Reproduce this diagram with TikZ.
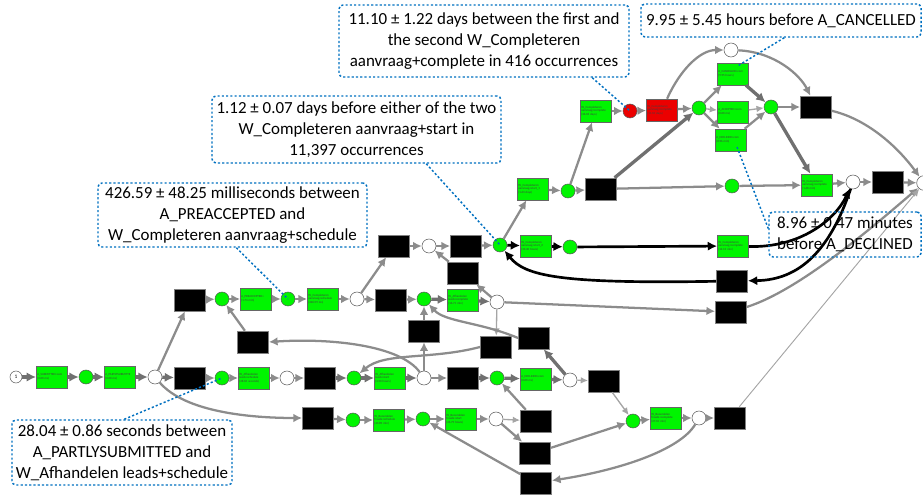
\documentclass[tikz,border=0pt]{standalone}
\usepackage{fontspec}
\setmainfont{Carlito}
\usetikzlibrary{calc}
\usetikzlibrary{arrows.meta}

\definecolor{netgreen}{RGB}{0,245,0}
\definecolor{netred}{RGB}{235,0,0}
\definecolor{arclight}{RGB}{165,165,165}
\definecolor{arcgray}{RGB}{140,140,140}
\definecolor{arcdark}{RGB}{112,112,112}
\definecolor{callblue}{RGB}{0,112,192}

\tikzset{
  trans/.style={draw=gray!80!black, fill=netgreen, minimum width=23.5pt, minimum height=16.5pt,
    inner sep=0.6pt, text width=22pt, align=left, font=\fontsize{2.3}{2.8}\selectfont, text=black!75},
  redtrans/.style={trans, fill=netred},
  silent/.style={draw=gray, fill=black, minimum width=23.5pt, minimum height=16.5pt, inner sep=0pt},
  place/.style={circle, draw=gray!70!black, fill=white, minimum size=10.5pt, inner sep=0pt},
  gplace/.style={place, fill=netgreen},
  rplace/.style={place, fill=netred},
  arcthin/.style={draw=arclight, line width=1pt, -{Latex[length=5.5pt,width=5pt]}},
  arcmid/.style={draw=arcgray, line width=1.7pt, -{Latex[length=6.5pt,width=6.5pt]}},
  arcthick/.style={draw=arcdark, line width=2.5pt, -{Latex[length=7pt,width=7pt]}},
  arcblack/.style={draw=black, line width=2pt, -{Latex[length=7pt,width=7pt]}},
  callout/.style={draw=callblue, line width=1.1pt, dash pattern=on 1.6pt off 1.6pt, rounded corners=3pt,
    inner sep=0pt, align=center, font=\fontsize{12.7}{15.75}\selectfont},
  pointer/.style={draw=callblue, line width=1.1pt, dash pattern=on 1.6pt off 1.6pt}
}

\begin{document}
\begin{tikzpicture}[x=0.75pt, y=-0.75pt]
  % Boundary
  \useasboundingbox (0,0) rectangle (923,495);
  % Bottom row
  \node[place, minimum size=9pt, font=\fontsize{4}{4}\selectfont] (p0) at (16,377) {1};
  \node[trans] (t1) at (52,377) {A\_SUBMITTED+com\\(0.00 ms)};
  \node[gplace] (p1) at (86,377) {};
  \node[trans] (t2) at (120,377) {A\_PARTLYSUBMITTE\\(0.00 ms)};
  \node[place] (p2) at (155,377) {};
  \node[silent] (s1) at (190,378) {};
  \node[gplace] (p3) at (222,378) {};
  \node[trans] (t3) at (254,378) {W\_Afhandelen\\leads+schedule\\(28.04 seconds)};
  \node[place] (p4) at (287,378) {};
  \node[silent] (s2) at (320,378) {};
  \node[gplace] (p5) at (354,378) {};
  \node[trans] (t4) at (390,378) {W\_Afhandelen\\leads+start\\(4.50 hours)};
  \node[place] (p6) at (424,378) {};
  \node[silent] (s3) at (463,378) {};
  \node[gplace] (p7) at (497,378) {};
  \node[trans] (t5) at (536,379) {A\_DECLINED+com\\(0.00 ms)};
  \node[place] (p8) at (570,380) {};
  \node[silent] (s4) at (604,381) {};
  % Second row
  \node[silent] (s5) at (190,300) {};
  \node[gplace] (p9) at (222,299) {};
  \node[trans] (t6) at (256,299) {A\_PREACCEPTED+\\(1.74 min)};
  \node[gplace] (p10) at (288,299) {};
  \node[trans] (t7) at (323,299) {W\_Completeren\\aanvraag+schedule\\(426.59 ms)};
  \node[place] (p11) at (357,299) {};
  \node[silent] (s6) at (391,300) {};
  \node[gplace] (p12) at (424,299) {};
  \node[trans] (t8) at (463,300) {W\_Afhandelen\\leads+complete\\(16.71 min)};
  \node[place] (p13) at (497,302) {};
  \node[silent] (s7) at (731,312) {};
  \node[silent] (s8) at (253,342) {};
  \node[silent] (s9) at (424,331) {};
  \node[silent] (s10) at (463,273) {};
  \node[silent] (s11) at (496,347) {};
  \node[silent] (s12) at (534,338) {};
  % Third row
  \node[silent] (s13) at (394,246) {};
  \node[place] (p14) at (429,246) {};
  \node[silent] (s14) at (466,246) {};
  \node[gplace] (p15) at (500,245) {};
  \node[trans] (t9) at (536,246) {W\_Completeren\\aanvraag+start\_2\\(33.40 hours)};
  \node[gplace] (p16) at (570,247) {};
  \node[trans] (t10) at (733,246) {W\_Completeren\\aanvraag+complete\\(14.13 min)};
  \node[silent] (s15) at (732,281) {};
  % Upper part
  \node[trans] (t11) at (533,189) {W\_Completeren\\aanvraag+start\_1\\(1.63 days)};
  \node[gplace] (p17) at (568,191) {};
  \node[silent] (s16) at (601,189) {};
  \node[gplace] (p18) at (732,186) {};
  \node[trans] (t12) at (817,185) {W\_Completeren\\aanvraag+complete\\(1.68 min)};
  \node[place] (p19) at (853,182) {};
  \node[silent] (s17) at (888,182) {};
  \node[place, minimum size=11pt] (pend) at (924,183) {};
  \node[trans] (t13) at (596,111) {W\_Completeren\\aanvraag+complete\\(36.18 days)};
  \node[rplace] (p20) at (630,111) {};
  \node[redtrans] (t14) at (662,110) {W\_Completeren\\aanvraag+complete\\(11.10 days)};
  \node[gplace] (p21) at (699,108) {};
  \node[place] (p22) at (731,50) {};
  \node[trans] (t15) at (733,74) {A\_CANCELLED+com\\(9.95 hours)};
  \node[trans] (t16) at (733,112) {A\_ACCEPTED+com\\(0.00 ms)};
  \node[trans] (t17) at (731,140) {A\_DECLINED+com\\(8.96 min)};
  \node[gplace] (p23) at (771,107) {};
  \node[silent] (s18) at (816,107) {};
  % Fourth row
  \node[silent] (s19) at (318,418) {};
  \node[gplace] (p24) at (353,420) {};
  \node[trans] (t18) at (389,420) {W\_Beoordelen\\fraude+schedule\\(40.89 min)};
  \node[gplace] (p25) at (423,419) {};
  \node[trans] (t19) at (461,419) {W\_Beoordelen\\fraude+start\\(26.79 hours)};
  \node[place] (p26) at (496,419) {};
  \node[silent] (s20) at (536,421) {};
  \node[silent] (s21) at (535,453) {};
  \node[silent] (s22) at (536,483) {};
  \node[gplace] (p27) at (633,421) {};
  \node[trans] (t20) at (666,418) {W\_Beoordelen\\fraude+complete\\(27.10 min)};
  \node[place] (p28) at (699,418) {};
  \node[silent] (s23) at (730,418) {};
  % Arcs, bottom row
  \draw[arcthick] (p0) -- (t1);
  \draw[arcthick] (t1) -- (p1);
  \draw[arcthick] (p1) -- (t2);
  \draw[arcthick] (t2) -- (p2);
  \draw[arcthick] (p2) -- (s1);
  \draw[arcmid] (s1) -- (p3);
  \draw[arcmid] (p3) -- (t3);
  \draw[arcmid] (t3) -- (p4);
  \draw[arcmid] (p4) -- (s2);
  \draw[arcthick] (s2) -- (p5);
  \draw[arcthick] (p5) -- (t4);
  \draw[arcthick] (t4) -- (p6);
  \draw[arcmid] (p6) -- (s3);
  \draw[arcthick] (s3) -- (p7);
  \draw[arcthick] (p7) -- (t5);
  \draw[arcthick] (t5) -- (p8);
  \draw[arcthin] (p8) -- (s4);
  \draw[arcmid] (p2) .. controls (185,412) and (250,418) .. (s19.west);
  % Arcs, second row
  \draw[arcmid] (p2) -- (s5);
  \draw[arcmid] (s5) -- (p9);
  \draw[arcmid] (p9) -- (t6);
  \draw[arcmid] (t6) -- (p10);
  \draw[arcmid] (p10) -- (t7);
  \draw[arcmid] (t7) -- (p11);
  \draw[arcmid] (p11) -- (s6);
  \draw[arcmid] (s6) -- (p12);
  \draw[arcthick] (p12) -- (t8);
  \draw[arcthick] (t8) -- (p13);
  \draw[arcmid] (p13) -- (s7);
  \draw[arcmid] (p13) -- (s10);
  \draw[arcthin] (p13) -- (s11);
  \draw[arcmid] (s8) -- (p9);
  \draw[arcmid] (p6) .. controls (400,345) and (330,338) .. (s8.east);
  \draw[arcmid] (p6) -- (s9);
  \draw[arcmid] (s9) -- (p12);
  \draw[arcmid] (s11.west) .. controls (430,360) and (385,352) .. (p5);
  \draw[arcthick] (p8) -- (s12);
  \draw[arcmid] (s12.west) .. controls (480,322) and (445,322) .. (p12);
  % Arcs, third row
  \draw[arcmid] (p11) -- (s13);
  \draw[arcmid] (s13) -- (p14);
  \draw[arcmid] (s10) -- (p14);
  \draw[arcmid] (p14) -- (s14);
  \draw[arcmid] (s14) -- (p15);
  \draw[arcblack] (p15) -- (t9);
  \draw[arcblack] (t9) -- (p16);
  \draw[arcblack] (p16) -- (t10);
  \draw[arcblack] (t10) .. controls (800,248) and (835,220) .. (p19);
  \draw[arcblack] (p19) .. controls (830,250) and (800,280) .. (s15);
  \draw[arcblack] (s15) .. controls (560,284) and (525,276) .. (p15);
  % Arcs, upper part
  \draw[arcmid] (p15) -- (t11);
  \draw[arcmid] (t11) -- (p17);
  \draw[arcmid] (p17) -- (s16);
  \draw[arcmid] (p17) -- (t13);
  \draw[arcthick] (s16) -- (p21);
  \draw[arcmid] (s16) -- (p18);
  \draw[arcmid] (p18) -- (t12);
  \draw[arcmid] (t12) -- (p19);
  \draw[arcmid] (p19) -- (s17);
  \draw[arcmid] (s17) -- (pend);
  \draw[arcmid] (t13) -- (p20);
  \draw[arcmid] (p20) -- (t14);
  \draw[arcmid] (t14) -- (p21);
  \draw[arcmid] (t14) .. controls (680,70) and (700,50) .. (p22);
  \draw[arcmid] (p21) -- (t15);
  \draw[arcthin] (p21) -- (t16);
  \draw[arcmid] (p21) -- (t17);
  \draw[arcthick] (t15) -- (p23);
  \draw[arcthin] (t16) -- (p23);
  \draw[arcmid] (t17) -- (p23);
  \draw[arcmid] (p23) -- (s18);
  \draw[arcthick] (p23) -- (t12);
  \draw[arcmid] (p22) .. controls (775,52) and (800,75) .. (s18);
  \draw[arcmid] (s18) .. controls (870,120) and (900,150) .. (pend);
  \draw[arcmid] (s7) .. controls (800,290) and (875,225) .. (pend);
  \draw[arcthin, line width=0.7pt] (s23) -- (pend);
  % Arcs, fourth row
  \draw[arcmid] (s19) -- (p24);
  \draw[arcmid] (p24) -- (t18);
  \draw[arcmid] (t18) -- (p25);
  \draw[arcmid] (p25) -- (t19);
  \draw[arcmid] (t19) -- (p26);
  \draw[arcthin] (p26) -- (s20);
  \draw[arcmid] (p26) -- (s21);
  \draw[arcmid] (s20) -- (p7);
  \draw[arcmid] (s21) -- (p27);
  \draw[arcthin] (s4) -- (p27);
  \draw[arcmid] (s22) -- (p25);
  \draw[arcmid] (p27) -- (t20);
  \draw[arcmid] (t20) -- (p28);
  \draw[arcmid] (p28) -- (s23);
  \draw[arcmid] (p28) .. controls (680,450) and (620,470) .. (s22);
  % Callouts
  \node[callout, minimum width=217.5pt, minimum height=54pt] (c1) at (484,41)
    {11.10 ± 1.22 days between the first and\\the second W\_Completeren\\aanvraag+complete in 416 occurrences};
  \node[callout, minimum width=210pt, minimum height=24.75pt] (c2) at (781,20.5)
    {9.95 ± 5.45 hours before A\_CANCELLED};
  \node[callout, minimum width=216.75pt, minimum height=50.25pt] (c3) at (356.5,129.5)
    {1.12 ± 0.07 days before either of the two\\W\_Completeren aanvraag+start in\\11,397 occurrences};
  \node[callout, minimum width=201.75pt, minimum height=48pt] (c4) at (232.5,215)
    {426.59 ± 48.25 milliseconds between\\A\_PREACCEPTED and\\W\_Completeren aanvraag+schedule};
  \node[callout, minimum width=165pt, minimum height=48.75pt] (c5) at (122,452.5)
    {28.04 ± 0.86 seconds between\\A\_PARTLYSUBMITTED and\\W\_Afhandelen leads+schedule};
  \node[callout, minimum width=114pt, minimum height=33.75pt] (c6) at (845,234.5)
    {8.96 ± 0.47 minutes\\before A\_DECLINED};
  \draw[pointer] ($(c1.south west)+(254,0)$) -- (p20.center);
  \draw[pointer] ($(c2.south west)+(144,0)$) -- ($(t15.north)+(5,3)$);
  \draw[pointer] ($(c3.south west)+(215,0)$) -- (p15.center);
  \draw[pointer] ($(c4.south west)+(139,0)$) -- (p10.center);
  \draw[pointer] ($(c5.north west)+(113,0)$) -- (p3.center);
  \draw[pointer] ($(t17.center)+(6,7)$) -- ($(c6.west)+(0,-6)$);
\end{tikzpicture}
\end{document}
